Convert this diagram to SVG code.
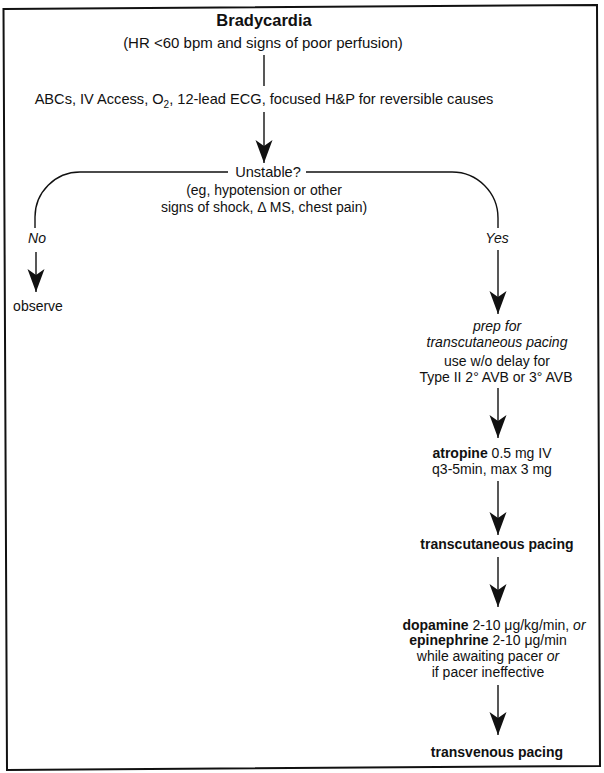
<svg xmlns="http://www.w3.org/2000/svg" width="604" height="773" viewBox="0 0 604 773">
<style>
text{font-family:"Liberation Sans",Arial,Helvetica,sans-serif;font-size:14px;fill:#111;text-anchor:middle}
.b{font-weight:bold}
.i{font-style:italic}
.title{font-size:16.5px;font-weight:bold}
.ln{stroke:#111;stroke-width:1.4;fill:none}
.frame{stroke:#111;stroke-width:2;fill:none}
</style>
<defs>
<marker id="ah" viewBox="0 -9 23 18" refX="23" refY="0" markerWidth="23" markerHeight="18" markerUnits="userSpaceOnUse" orient="auto">
<path d="M0,-8.5 L23,0 L0,8.5 L6,0 Z" fill="#111"/>
</marker>
</defs>
<rect width="604" height="773" fill="#fff"/>
<polygon class="frame" points="3.5,9 597,5 600,766 7,770"/>
<g id="connectors">
<line class="ln" x1="264" y1="55" x2="264" y2="86"/>
<line class="ln" x1="264" y1="112" x2="264" y2="163" marker-end="url(#ah)"/>
<path class="ln" d="M228,172 H80 A45,45 0 0 0 35,217 V228"/>
<path class="ln" d="M306,172 H452 A46,46 0 0 1 498,218 V228"/>
<line class="ln" x1="36" y1="252" x2="36" y2="292" marker-end="url(#ah)"/>
<line class="ln" x1="498" y1="250" x2="498" y2="314" marker-end="url(#ah)"/>
<line class="ln" x1="498" y1="388" x2="498" y2="438" marker-end="url(#ah)"/>
<line class="ln" x1="498" y1="481" x2="498" y2="535" marker-end="url(#ah)"/>
<line class="ln" x1="498" y1="557" x2="498" y2="607" marker-end="url(#ah)"/>
<line class="ln" x1="498" y1="685" x2="498" y2="735" marker-end="url(#ah)"/>
</g>
<g id="bradycardia">
<text class="title" x="264" y="26">Bradycardia</text>
<text x="263" y="48" style="font-size:15px">(HR &lt;60 bpm and signs of poor perfusion)</text>
</g>
<g id="abcs">
<text x="264" y="104" style="font-size:14.6px">ABCs, IV Access, O<tspan dy="4" font-size="10">2</tspan><tspan dy="-4">, 12-lead ECG, focused H&amp;P for reversible causes</tspan></text>
</g>
<g id="unstable">
<text x="268" y="177" style="font-size:14.6px">Unstable?</text>
<text x="264" y="195">(eg, hypotension or other</text>
<text x="264" y="212">signs of shock, Δ MS, chest pain)</text>
</g>
<g id="label-no"><text class="i" x="37" y="243">No</text></g>
<g id="label-yes"><text class="i" x="497" y="243">Yes</text></g>
<g id="observe"><text x="38" y="311">observe</text></g>
<g id="prep">
<text class="i" x="497" y="331">prep for</text>
<text class="i" x="497" y="347">transcutaneous pacing</text>
<text x="497" y="366">use w/o delay for</text>
<text x="496" y="382">Type II 2° AVB or 3° AVB</text>
</g>
<g id="atropine">
<text x="492" y="458"><tspan class="b">atropine</tspan> 0.5 mg IV</text>
<text x="492" y="474">q3-5min, max 3 mg</text>
</g>
<g id="tcp"><text class="b" x="497" y="549">transcutaneous pacing</text></g>
<g id="drugs">
<text x="494" y="630"><tspan class="b">dopamine</tspan> 2-10 μg/kg/min, <tspan class="i">or</tspan></text>
<text x="488" y="645"><tspan class="b">epinephrine</tspan> 2-10 μg/min</text>
<text x="488" y="661">while awaiting pacer <tspan class="i">or</tspan></text>
<text x="488" y="677">if pacer ineffective</text>
</g>
<g id="tvp"><text class="b" x="497" y="757">transvenous pacing</text></g>
</svg>
